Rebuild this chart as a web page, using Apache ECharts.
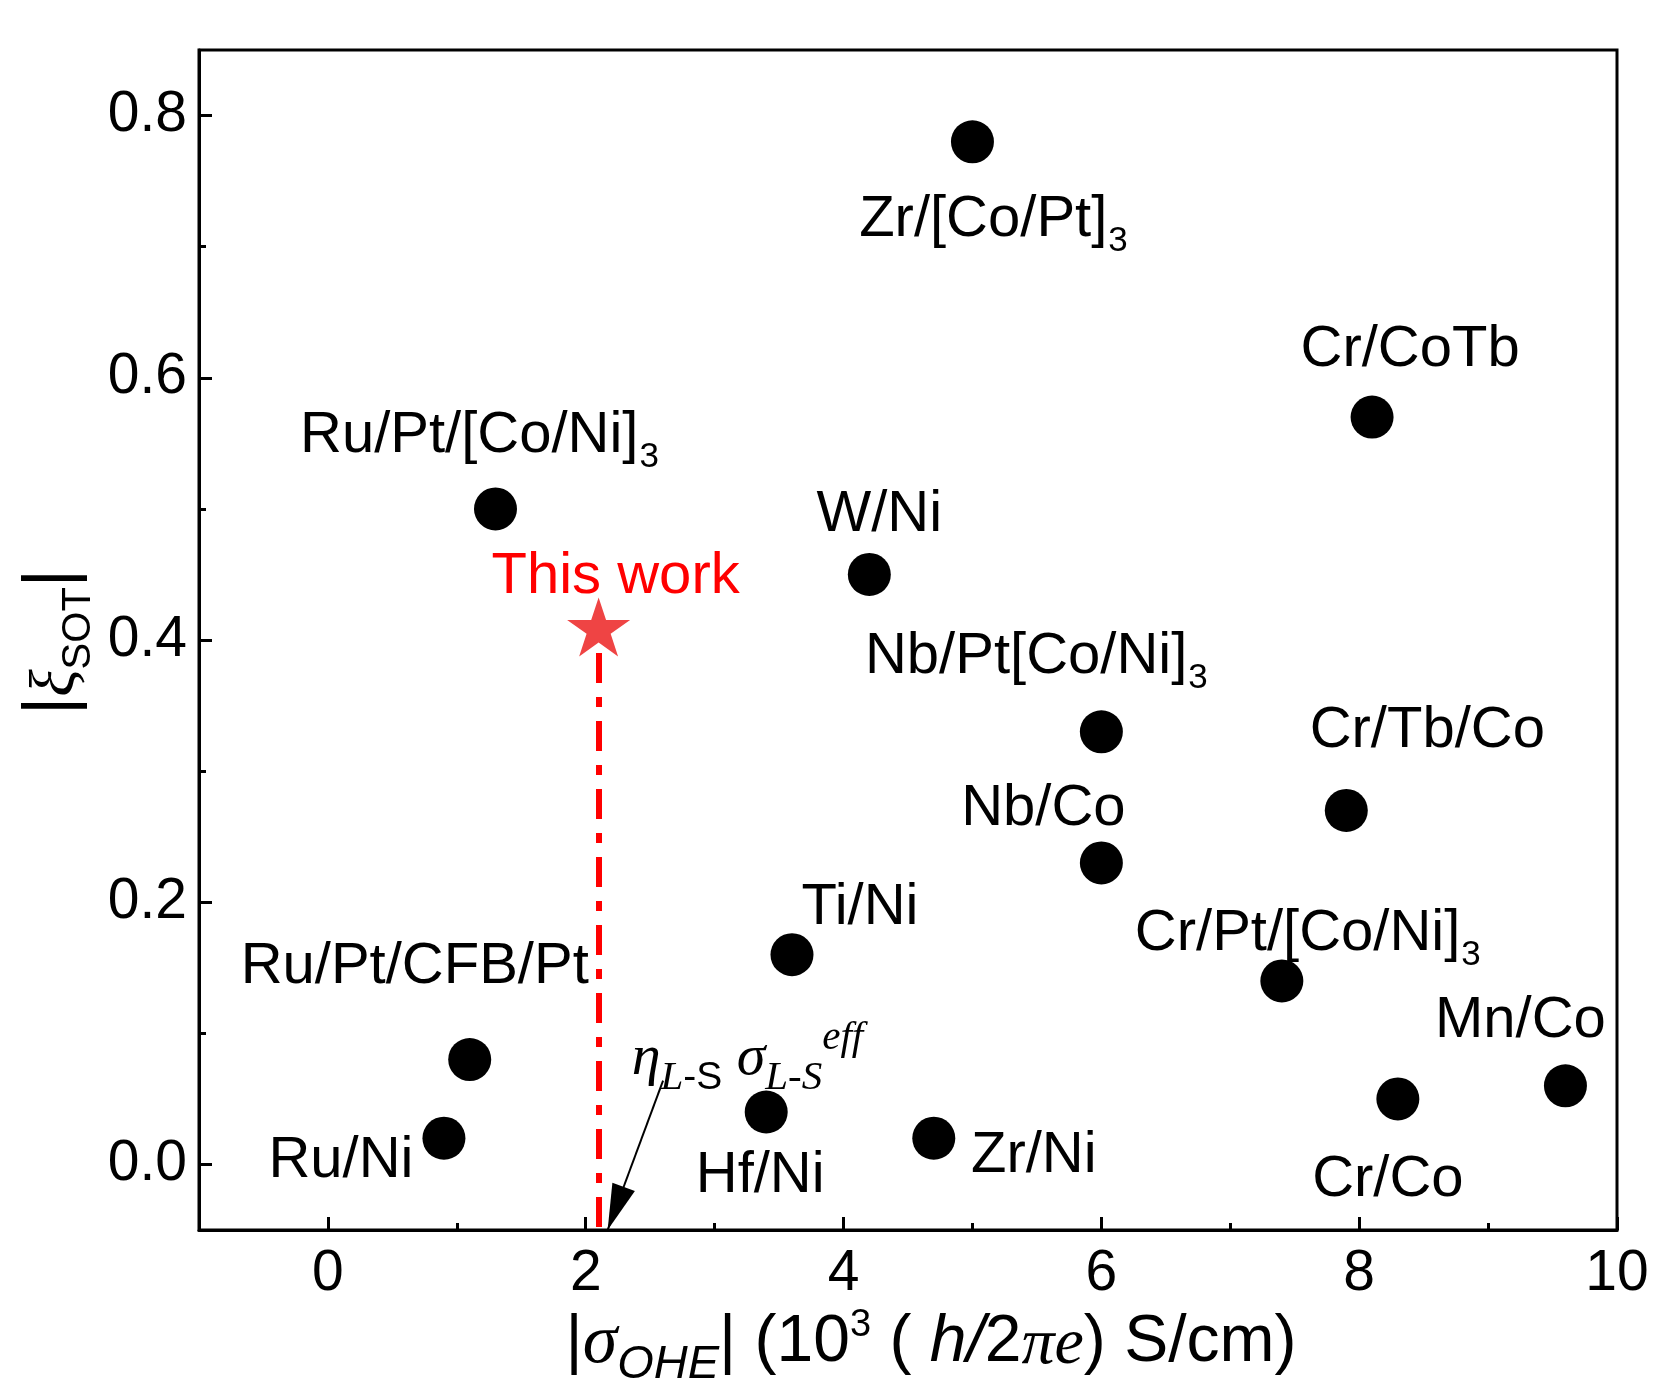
<!DOCTYPE html>
<html><head><meta charset="utf-8">
<script src="https://cdn.jsdelivr.net/npm/echarts@6/dist/echarts.min.js"></script>
<style>html,body{margin:0;padding:0;background:#fff}#c{width:1654px;height:1382px}</style>
</head><body><div id="c"></div>
<script>
// ---- data ----
const materials = ['Zr/[Co/Pt]','Cr/CoTb','Ru/Pt/[Co/Ni]','W/Ni','Nb/Pt[Co/Ni]','Cr/Tb/Co','Nb/Co','Ti/Ni','Cr/Pt/[Co/Ni]','Ru/Pt/CFB/Pt','Mn/Co','Cr/Co','Hf/Ni','Ru/Ni','Zr/Ni'];
const subscripts = ['3','','3','','3','','','','3','','','','','',''];
const sigmaOHE = [5.0,8.1,1.3,4.2,6.0,7.9,6.0,3.6,7.4,1.1,9.6,8.3,3.4,0.9,4.7];
const xiSOT   = [0.78,0.57,0.50,0.45,0.33,0.27,0.23,0.16,0.14,0.08,0.06,0.05,0.04,0.02,0.02];
const thisWorkLabel = 'This work';
const thisWorkSigma = [2.1];
const thisWorkXi = [0.41];
const xMajorTicks = [0,2,4,6,8,10];
const xMinorTicks = [1,3,5,7,9];
const yMajorTicks = [0,0.2,0.4,0.6,0.8];
const yMinorTicks = [0.1,0.3,0.5,0.7];
const xRange = [-1, 10];
const yRange = [-0.05, 0.85];
// annotation anchor (data coords) and arrow (data coords)
const annotAnchor = [3.27, 0.088];
const arrowFrom = [2.6, 0.064];
const arrowTo = [2.17, -0.05];

// ---- layout (label offsets in px, not data) ----
const labelOffsets = [[21,79],[38,-66],[-16,-72],[10,-58],[-65,-74],[81,-78],[-58,-53],[68,-46],[26,-46],[-55,-92],[-45,-64],[-10,82],[-6,65],[-103,24],[100,19]];

const SANS = '"Liberation Sans", Arial, sans-serif';
const SERIF = '"Liberation Serif", "Times New Roman", serif';

const labelRich = {
  m: {fontSize: 58, lineHeight: 60, verticalAlign: 'top', fontFamily: SANS, color: '#000', opacity: 1},
  s: {fontSize: 35, lineHeight: 35, padding: [33,0,0,1], verticalAlign: 'top', fontFamily: SANS, color: '#000', opacity: 1}
};

const refData = sigmaOHE.map((x, i) => ({
  value: [x, xiSOT[i]],
  label: {
    offset: labelOffsets[i],
    formatter: subscripts[i] ? `{m|${materials[i]}}{s|${subscripts[i]}}` : `{m|${materials[i]}}`
  }
}));

const starPath = 'path://M50,0 L61.23,34.55 L97.55,34.55 L68.16,55.9 L79.39,90.45 L50,69.1 L20.61,90.45 L31.84,55.9 L2.45,34.55 L38.77,34.55 Z';

const chart = echarts.init(document.getElementById('c'), null, {renderer: 'canvas'});
const axisLineStyle = {color: '#000', width: 3};

const option = {
  animation: false,
  backgroundColor: '#fff',
  grid: {left: 199, right: 37, top: 50, bottom: 152, show: true, borderColor: '#000', borderWidth: 3, containLabel: false, outerBoundsMode: 'none'},
  xAxis: [
    {
      type: 'value', min: xRange[0], max: xRange[1], position: 'bottom',
      axisLine: {show: true, onZero: false, lineStyle: axisLineStyle},
      axisTick: {show: true, inside: true, length: 13, lineStyle: axisLineStyle, customValues: xMajorTicks},
      axisLabel: {show: true, customValues: xMajorTicks, fontSize: 57, color: '#000', fontFamily: SANS, margin: 16},
      splitLine: {show: false},
      name: '{a||}{sg|σ}{sb|OHE}{a|| (10}{sp|3}{a| ( }{ai|h/}{a|2}{ti|πe}{a|) S/cm)}',
      nameLocation: 'middle', nameGap: 76, nameMoveOverlap: false,
      nameTextStyle: {
        padding: [0,0,0,46],
        rich: {
          a:  {fontSize: 66, lineHeight: 70, padding: [4,0,0,0], verticalAlign: 'top', fontFamily: SANS, color: '#000'},
          ai: {fontSize: 66, lineHeight: 70, padding: [4,0,0,0], verticalAlign: 'top', fontFamily: SANS, fontStyle: 'italic', color: '#000'},
          sg: {fontSize: 70, lineHeight: 70, padding: [3,0,0,0], verticalAlign: 'top', fontFamily: SERIF, fontStyle: 'italic', color: '#000'},
          ti: {fontSize: 66, lineHeight: 66, padding: [7,0,0,0], verticalAlign: 'top', fontFamily: SERIF, fontStyle: 'italic', color: '#000'},
          sb: {fontSize: 47, lineHeight: 47, padding: [35,0,0,0], verticalAlign: 'top', fontFamily: SANS, fontStyle: 'italic', color: '#000'},
          sp: {fontSize: 38, lineHeight: 38, padding: [1,0,0,0], verticalAlign: 'top', fontFamily: SANS, color: '#000'}
        }
      }
    },
    {
      type: 'value', min: xRange[0], max: xRange[1], position: 'bottom',
      axisLine: {show: false, onZero: false},
      axisTick: {show: true, inside: true, length: 7, lineStyle: axisLineStyle, customValues: xMinorTicks},
      axisLabel: {show: false, customValues: xMinorTicks},
      splitLine: {show: false}
    }
  ],
  yAxis: [
    {
      type: 'value', min: yRange[0], max: yRange[1], position: 'left',
      axisLine: {show: true, onZero: false, lineStyle: axisLineStyle},
      axisTick: {show: true, inside: true, length: 13, lineStyle: axisLineStyle, customValues: yMajorTicks},
      axisLabel: {show: true, customValues: yMajorTicks, fontSize: 57, color: '#000', fontFamily: SANS, margin: 12,
        formatter: v => Number(v).toFixed(1)},
      splitLine: {show: false},
      name: '{a||}{xi|ξ}{sb|SOT}{a||}',
      nameLocation: 'middle', nameRotate: 90, nameGap: 109, nameMoveOverlap: false,
      nameTextStyle: {
        padding: [0,4,0,0],
        rich: {
          a:  {fontSize: 70, lineHeight: 72, verticalAlign: 'top', fontFamily: SANS, color: '#000'},
          xi: {fontSize: 64, lineHeight: 64, padding: [7,0,0,0], verticalAlign: 'top', fontFamily: SERIF, fontStyle: 'italic', color: '#000'},
          sb: {fontSize: 40, lineHeight: 40, padding: [41,0,0,0], verticalAlign: 'top', fontFamily: SANS, color: '#000'}
        }
      }
    },
    {
      type: 'value', min: yRange[0], max: yRange[1], position: 'left',
      axisLine: {show: false, onZero: false},
      axisTick: {show: true, inside: true, length: 7, lineStyle: axisLineStyle, customValues: yMinorTicks},
      axisLabel: {show: false, customValues: yMinorTicks},
      splitLine: {show: false}
    }
  ],
  series: [
    {
      name: 'references', type: 'scatter', xAxisIndex: 0, yAxisIndex: 0,
      symbol: 'circle', symbolSize: 43,
      itemStyle: {color: '#000', opacity: 1},
      label: {show: true, position: 'inside', align: 'center', verticalAlign: 'middle', color: '#000', opacity: 1, rich: labelRich},
      emphasis: {disabled: true},
      data: refData,
      z: 5
    },
    {
      name: 'this work', type: 'scatter', xAxisIndex: 0, yAxisIndex: 0,
      symbol: starPath, symbolSize: [63, 59],
      itemStyle: {color: '#ef4444', opacity: 1},
      label: {show: true, position: 'inside', offset: [17, -50], formatter: thisWorkLabel,
        fontSize: 58, fontFamily: SANS, color: '#ff0000', opacity: 1},
      emphasis: {disabled: true},
      data: thisWorkSigma.map((x, i) => [x, thisWorkXi[i]]),
      markLine: {
        silent: true, symbol: ['none', 'none'], animation: false,
        label: {show: false},
        lineStyle: {color: '#ff0000', width: 6, opacity: 1, type: [30, 14, 10, 14]},
        data: [[{coord: [thisWorkSigma[0], thisWorkXi[0] - 0.02]}, {coord: [thisWorkSigma[0], yRange[0]]}]]
      },
      z: 6
    },
    {
      name: 'annotation', type: 'scatter', xAxisIndex: 0, yAxisIndex: 0,
      symbolSize: 0, silent: true, clip: false,
      itemStyle: {opacity: 1},
      label: {
        show: true, position: 'inside', offset: [-2, -2], opacity: 1,
        formatter: '{g|η}{si|L}{ss|-S}{g| σ}{si|L-S}{sp|eff}',
        rich: {
          g:  {fontSize: 58, lineHeight: 58, padding: [12,0,0,0], verticalAlign: 'top', fontFamily: SERIF, fontStyle: 'italic', color: '#000'},
          si: {fontSize: 41, lineHeight: 41, padding: [40,0,0,0], verticalAlign: 'top', fontFamily: SERIF, fontStyle: 'italic', color: '#000'},
          ss: {fontSize: 39, lineHeight: 39, padding: [41,0,0,0], verticalAlign: 'top', fontFamily: SANS, color: '#000'},
          sp: {fontSize: 41, lineHeight: 41, padding: [0,0,0,0], verticalAlign: 'top', fontFamily: SERIF, fontStyle: 'italic', color: '#000'}
        }
      },
      data: [annotAnchor],
      markLine: {
        silent: true, animation: false,
        symbol: ['none', 'triangle'],
        symbolSize: 10,
        label: {show: false},
        lineStyle: {color: '#000', width: 2, type: 'solid', opacity: 1},
        itemStyle: {color: '#000'},
        data: [[
          {coord: arrowFrom, symbol: 'none'},
          {coord: arrowTo, symbol: 'triangle', symbolSize: [24, 46], symbolOffset: [0, 23]}
        ]]
      },
      z: 4
    }
  ]
};
chart.setOption(option);
</script>
</body></html>
